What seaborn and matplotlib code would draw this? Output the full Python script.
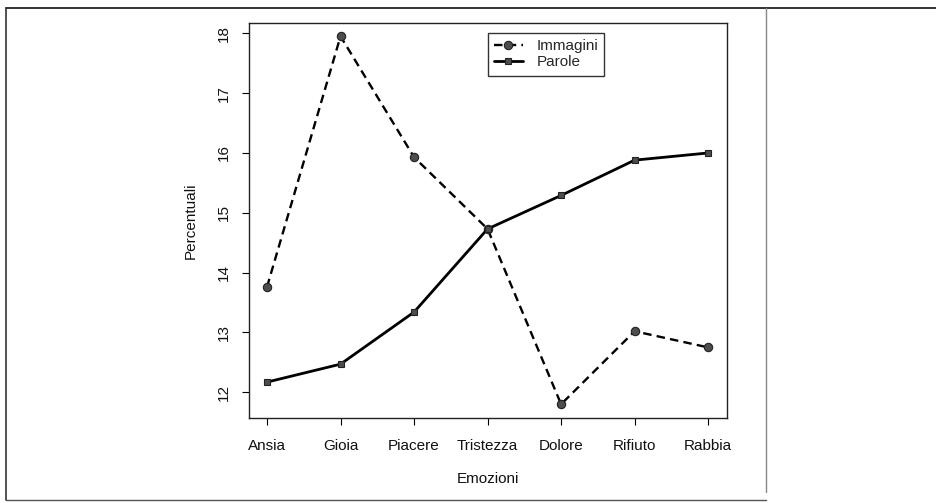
import matplotlib
matplotlib.use("Agg")
import matplotlib.pyplot as plt
import seaborn as sns
import pandas as pd
from matplotlib.lines import Line2D

emozioni = ["Ansia", "Gioia", "Piacere", "Tristezza", "Dolore", "Rifiuto", "Rabbia"]
immagini = [13.76, 17.95, 15.93, 14.73, 11.80, 13.02, 12.75]
parole = [12.17, 12.47, 13.34, 14.73, 15.29, 15.88, 16.00]
y_ticks = [12, 13, 14, 15, 16, 17, 18]

sns.set_theme(style="ticks")
plt.rcParams["font.family"] = ["Liberation Sans", "DejaVu Sans"]

df = pd.DataFrame({
    "Emozioni": emozioni * 2,
    "Percentuali": immagini + parole,
    "Serie": ["Immagini"] * len(emozioni) + ["Parole"] * len(emozioni),
})

fig = plt.figure(figsize=(9.36, 5.03), dpi=100)
ax = fig.add_axes([0.266, 0.169, 0.511, 0.785])

sns.lineplot(data=df[df.Serie == "Immagini"], x="Emozioni", y="Percentuali", sort=False,
             ax=ax, color="black", lw=1.7, linestyle=(0, (3.6, 2.2)), marker="o",
             markersize=6, markerfacecolor="#4d4d4d", markeredgecolor="#222222",
             markeredgewidth=0.8, label="Immagini")
sns.lineplot(data=df[df.Serie == "Parole"], x="Emozioni", y="Percentuali", sort=False,
             ax=ax, color="black", lw=2.0, linestyle="-", marker="s",
             markersize=4.5, markerfacecolor="#4d4d4d", markeredgecolor="#222222",
             markeredgewidth=0.8, label="Parole")

ax.set_xlim(-0.245, 6.26)
ax.set_ylim(11.57, 18.17)
ax.set_yticks(y_ticks)
ax.set_yticklabels([str(v) for v in y_ticks], rotation=90, va="center")
ax.tick_params(axis="both", labelsize=11, length=5, width=0.8, color="black",
               labelcolor="#111111", direction="out")
ax.tick_params(axis="x", pad=10)
ax.tick_params(axis="y", pad=8)
for s in ax.spines.values():
    s.set_visible(True)
    s.set_color("#222222")
    s.set_linewidth(1.0)
ax.set_xlabel("Emozioni", fontsize=11, labelpad=14, color="#111111")
ax.set_ylabel("Percentuali", fontsize=11, labelpad=14, color="#111111")

leg = ax.legend(loc="upper left", bbox_to_anchor=(0.499, 0.975), fontsize=11,
                frameon=True, fancybox=False, handlelength=1.9, handletextpad=0.9,
                borderpad=0.4, labelspacing=0.15, borderaxespad=0)
leg.get_frame().set_edgecolor("black")
leg.get_frame().set_linewidth(1.0)

W, H = 936, 503
def fx(x): return x / W
def fy(y): return 1 - y / H
fig.add_artist(Line2D([fx(6), fx(936)], [fy(7.5), fy(7.5)], color="#222222", lw=1.3))
fig.add_artist(Line2D([fx(6), fx(6)], [fy(7.5), fy(500)], color="#333333", lw=1.2))
fig.add_artist(Line2D([fx(6), fx(766)], [fy(500), fy(500)], color="#555555", lw=1.0))
fig.add_artist(Line2D([fx(766), fx(766)], [fy(8), fy(492)], color="#888888", lw=1.0))

fig.savefig("out.png", dpi=100)
